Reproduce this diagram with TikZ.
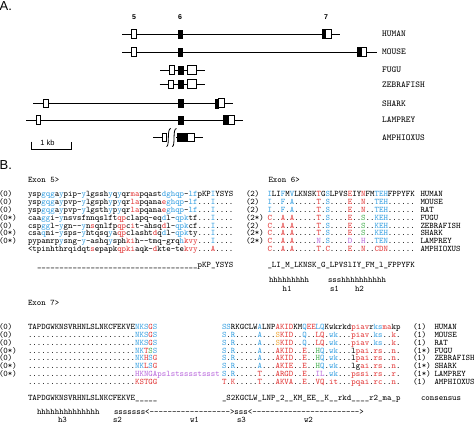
\documentclass[tikz,border=0pt]{standalone}
\usepackage{fontspec}
\newfontfamily\hv{Liberation Sans}
\definecolor{cb}{RGB}{55,160,225}
\definecolor{cr}{RGB}{225,55,55}
\definecolor{cg}{RGB}{70,175,80}
\definecolor{cp}{RGB}{185,105,220}
\definecolor{co}{RGB}{240,165,50}
\newcommand\xB[1]{\textcolor{cb}{#1}}
\newcommand\xR[1]{\textcolor{cr}{#1}}
\newcommand\xG[1]{\textcolor{cg}{#1}}
\newcommand\xP[1]{\textcolor{cp}{#1}}
\newcommand\xO[1]{\textcolor{co}{#1}}
\newcommand\usix{\_\_\_\_\_\_}
\newcommand\dtf{........................}
\newcommand\dten{-{}-{}-{}-{}-{}-{}-{}-{}-{}-{}}
\begin{document}
\begin{tikzpicture}[x=1pt,y=-1pt,
  seq/.style={anchor=base west, inner sep=0pt, outer sep=0pt, font=\ttfamily\fontsize{8.5}{9}\selectfont},
  spec/.style={anchor=west, inner sep=0pt, font=\ttfamily\fontsize{9}{10}\selectfont},
  panel/.style={anchor=west, inner sep=0pt, font=\hv\fontsize{13}{14}\selectfont},
  exlab/.style={inner sep=0pt, font=\hv\bfseries\fontsize{7}{8}\selectfont},
  gline/.style={line width=0.9pt},
  openex/.style={draw, fill=white, line width=0.8pt},
  fillex/.style={fill=black, draw=black, line width=0.4pt},
  brk/.style={line width=0.8pt}]
\useasboundingbox (0,0) rectangle (474,424);
% ---------------- Panel A ----------------
\node[panel] (lA) at (-0.5,6) {A.};
\node[exlab] (n5) at (134,17) {5};
\node[exlab] (n6) at (180,17) {6};
\node[exlab] (n7) at (326,17) {7};
% HUMAN
\draw[gline] (122,34) -- (340,34);
\draw[openex] (131.8,29.8) rectangle (136.3,38.2);
\draw[fillex] (178,29.8) rectangle (182.5,38.2);
\draw[fillex] (322,29.5) rectangle (325.5,38.5);
\draw[openex] (325.5,29.5) rectangle (331,38.5);
% MOUSE
\draw[gline] (122,52) -- (377,52);
\draw[openex] (131.8,47.8) rectangle (136.3,56.2);
\draw[fillex] (178,47.8) rectangle (182.5,56.2);
\draw[fillex] (357,47.5) rectangle (361,56.5);
\draw[openex] (361,47.5) rectangle (366,56.5);
% FUGU
\draw[gline] (160,70) -- (205,70);
\draw[openex] (169.5,65.8) rectangle (174,74.2);
\draw[fillex] (178.5,65.8) rectangle (183,74.2);
\draw[openex] (187,65.5) rectangle (196,74.5);
% ZEBRAFISH
\draw[gline] (159.5,84.3) -- (205,84.3);
\draw[openex] (168.5,80.1) rectangle (173,88.5);
\draw[fillex] (178.5,80.1) rectangle (183,88.5);
\draw[openex] (187.5,79.8) rectangle (196,88.8);
% SHARK
\draw[gline] (33,103.3) -- (233,103.3);
\draw[openex] (43.5,99.1) rectangle (48,107.5);
\draw[fillex] (178.5,99.1) rectangle (183,107.5);
\draw[fillex] (215,98.8) rectangle (218.5,107.8);
\draw[openex] (218.5,98.8) rectangle (224,107.8);
% LAMPREY
\draw[gline] (26,120) -- (243,120);
\draw[openex] (36,115.8) rectangle (40.5,124.2);
\draw[fillex] (178.5,115.8) rectangle (183,124.2);
\draw[fillex] (223,115.5) rectangle (228.5,124.5);
\draw[openex] (228.5,115.5) rectangle (234,124.5);
% AMPHIOXUS
\draw[gline] (153,137.3) -- (166.5,137.3);
\draw[gline] (176,137.3) -- (203,137.3);
\draw[openex] (162.5,133.6) rectangle (166.5,141.4);
\draw[brk] (166.5,146.5) .. controls (170,146.5) and (166.5,128.5) .. (170.8,128.5);
\draw[brk] (172.2,146.5) .. controls (175.7,146.5) and (172.2,128.5) .. (176.5,128.5);
\draw[fillex] (177,133.1) rectangle (187,141.5);
\draw[openex] (187,133.1) rectangle (194,141.5);
% scale bar
\draw[line width=0.8pt] (31.7,141.5) -- (31.7,149.3) -- (71,149.3) -- (71,141.5);
\node[inner sep=0pt, font=\hv\fontsize{7.5}{8}\selectfont] (kb) at (47.5,143) {1 kb};
% species A
\foreach \s/\yy [count=\i] in {HUMAN/34,MOUSE/52,FUGU/70,ZEBRAFISH/84.3,SHARK/103.3,LAMPREY/120,AMPHIOXUS/137.3}
  \node[spec] (sa\i) at (382,\yy) {\s};
% ---------------- Panel B ----------------
\node[panel] (lB) at (-0.5,165.5) {B.};
\node[seq] (x5) at (28,182.5) {Exon 5>};
\node[seq] (x6) at (268.5,182.5) {Exon 6>};
% left numbers exon 5
\foreach \t [count=\i] in {{(0)},{(0)},{(0)},{(0*)},{(0)},{(0*)},{(0*)}}
  \node[seq] (na\i) at (-1,{196.6+7.86*(\i-1)}) {\t};
\foreach \t [count=\i] in {{(2)},{(2)},{(2)},{(2*)},{(2)},{(2*)},{(2*)}}
  \node[seq] (nb\i) at (246,{196.6+7.86*(\i-1)}) {\t};
\foreach \s [count=\i] in {HUMAN,MOUSE,RAT,FUGU,ZEBRAFISH,SHARK,LAMPREY,AMPHIOXUS}
  \node[seq] (sb\i) at (420.5,{196.6+7.86*(\i-1)}) {\s};
% exon 5 sequences
\node[seq] (e5a) at (28,196.6) {ysp\xB{gqg}a\xB{y}pip-\xB{y}lgssh\xB{y}q\xB{y}qr\xR{ma}pqast\xB{dghqp}-\xB{lf}pKP\xB{I}YSYS};
\node[seq] (e5b) at (28,204.5) {ysp\xB{gqg}a\xB{y}pvp-\xB{y}lgsph\xB{y}p\xB{y}qr\xR{la}pqana\xR{e}\xB{ghqp}-\xB{lf}...\xB{I}....};
\node[seq] (e5c) at (28,212.3) {ysp\xB{gqg}a\xB{y}pvp-\xB{y}lgsth\xB{y}p\xB{y}qr\xR{la}pqana\xR{e}\xB{ghqp}-\xB{lf}...\xB{I}....};
\node[seq] (e5d) at (28,220.2) {caa\xB{gg}i-\xB{y}nsvsfnnqslft\xR{qp}clapq-eq\xB{d}l-\xB{qpk}tf...\xB{I}....};
\node[seq] (e5e) at (28,228.0) {csp\xB{gg}l-\xB{y}gn-{}-\xB{y}n\xR{s}qnlfp\xR{qp}c\xR{i}t-ahsq\xR{d}l-\xB{qpk}cf...\xB{I}....};
\node[seq] (e5f) at (28,235.9) {csa\xB{q}ni-\xB{y}sps-\xB{y}htqsq\xB{y}a\xR{qp}clasht\xR{d}q\xB{d}l-\xB{qpk}ty...\xB{I}....};
\node[seq] (e5g) at (28,243.8) {pypamrp\xB{y}sng-\xB{y}-ashq\xB{y}sph\xR{ki}h-{}-tmq-grq\xB{h}\xR{kvy}...\xB{I}....};
\node[seq] (e5h) at (28,251.6) {<tpinhthrqidqt\xR{s}epapk\xR{qpki}aqk-\xR{d}kte-te\xR{kvy}...\xR{A}....};
% exon 6 sequences
\node[seq] (e6a) at (267.5,196.6) {\xB{I}LI\xB{F}M\xB{V}LKNSK\xR{T}G\xB{S}LPVS\xR{E}IY\xR{N}FM\xB{TEH}FPPYFK};
\node[seq] (e6b) at (267.5,204.5) {\xB{I}..\xB{F}.\xB{A}.....\xR{T}.\xB{S}....\xR{E}..\xR{N}..\xB{TEH}......};
\node[seq] (e6c) at (267.5,212.3) {\xB{I}..\xB{F}.\xB{A}.....\xR{T}.\xB{S}....\xR{E}..\xR{N}..\xB{TEH}......};
\node[seq] (e6d) at (267.5,220.2) {\xR{C}..\xR{A}.\xR{A}.....\xR{T}.\xB{S}....\xR{E}..\xG{S}..\xB{KEH}......};
\node[seq] (e6e) at (267.5,228.0) {\xR{C}..\xR{A}.\xR{A}.....\xR{T}.\xB{S}....\xR{E}..\xG{S}..\xB{KEH}......};
\node[seq] (e6f) at (267.5,235.9) {\xR{C}..\xR{A}.\xR{A}.....\xR{T}.\xB{S}....\xR{E}..\xG{S}..\xB{KEH}......};
\node[seq] (e6g) at (267.5,243.8) {\xR{C}..\xR{A}.\xR{A}.....\xP{N}.\xB{S}....\xP{D}..\xP{H}..\xB{TEN}......};
\node[seq] (e6h) at (267.5,251.6) {\xR{C}..\xR{A}.\xR{A}.....\xR{T}.\xR{C}....\xR{E}..\xR{N}..\xR{CDN}......};
% consensus exon 5/6
\node[seq] (c5) at (37,267.3) {\usix\usix\usix\usix\usix\usix pKP\_YSYS};
\node[seq] (c6) at (267.5,267.3) {\_LI\_M\_LKNSK\_G\_LPVSlIY\_FM\_l\_FPPYFK};
\node[seq] (ss6a) at (269,282.3) {hhhhhhhhh};
\node[seq] (ss6b) at (328,282.3) {ssshhhhhhhhhh};
\node[seq] (h1) at (282.7,291.5) {h1};
\node[seq] (s1) at (330,291.5) {s1};
\node[seq] (h2) at (355,291.5) {h2};
% ---------------- Exon 7 ----------------
\node[seq] (x7) at (28,305.5) {Exon 7>};
\foreach \t [count=\i] in {{(0)},{(0)},{(0)},{(0*)},{(0)},{(0*)},{(0*)}}
  \node[seq] (nc\i) at (-1,{329.6+7.81*(\i-1)}) {\t};
\foreach \t [count=\i] in {{(1)},{(1)},{(1)},{(1*)},{(1)},{(1*)},{(1*)},{(1)}}
  \node[seq] (nd\i) at (413,{329.6+7.81*(\i-1)}) {\t};
\foreach \s [count=\i] in {HUMAN,MOUSE,RAT,FUGU,ZEBRAFISH,SHARK,LAMPREY,AMPHIOXUS}
  \node[seq] (sc\i) at (434.5,{329.6+7.81*(\i-1)}) {\s};
% exon 7 left
\node[seq] (e7a) at (28,329.6) {TAPDGWKNSVRHNLSLNKCFEKVE\xB{NKS}\xR{G}\xB{S}};
\node[seq] (e7b) at (28,337.4) {\dtf\xB{NKS}\xR{G}\xB{S}};
\node[seq] (e7c) at (28,345.2) {\dtf\xB{NKS}\xR{G}\xB{S}};
\node[seq] (e7d) at (28,353.0) {\dtf\xB{NK}\xR{T}\xG{S}\xB{S}};
\node[seq] (e7e) at (28,360.8) {\dtf\xB{NK}\xR{H}\xB{S}\xR{G}};
\node[seq] (e7f) at (28,368.7) {\dtf\xB{NK}\xR{L}\xB{S}\xR{G}};
\node[seq] (e7g) at (28,376.5) {\dtf\xP{HKNGApslstsssstssst}};
\node[seq] (e7h) at (28,384.3) {\dtf\xR{KSTGG}};
% exon 7 right
\node[seq] (f7a) at (222,329.6) {\xB{SS}RKGCLW\xB{A}LNP\xR{AKID}KM\xB{Q}\xR{EE}\xB{LQ}Kwkrkd\xR{piav}r\xB{ks}\xR{ma}kp};
\node[seq] (f7b) at (222,337.4) {\xB{S}.\xB{R}.....\xB{A}...\xO{S}\xR{KID}..\xB{Q}..\xR{LQ}.\xB{wk}...\xR{piav}.\xB{ks}..\xR{k}.};
\node[seq] (f7c) at (222,345.2) {\xB{S}.\xB{R}.....\xB{A}...\xO{S}\xR{KID}..\xB{Q}..\xR{LQ}.\xB{wk}...\xR{piav}.\xB{ks}..\xR{k}.};
\node[seq] (f7d) at (222,353.0) {\xB{S}.\xB{R}.....\xB{A}...\xR{AKID}..\xR{E}..\xG{H}\xB{Q}.\xB{wk}...l\xR{pai}.\xR{rs}..\xR{n}.};
\node[seq] (f7e) at (222,360.8) {\xB{S}.\xB{R}.....\xB{A}...\xR{AKID}..\xR{E}..\xG{H}\xB{Q}.\xB{wk}...l\xR{pai}.\xR{rs}..\xR{n}.};
\node[seq] (f7f) at (222,368.7) {\xB{S}.\xB{R}.....\xB{A}...\xR{AKIE}..\xR{E}..\xG{H}\xB{Q}.\xB{wk}...lg\xR{ai}.\xR{rs}..\xR{n}.};
\node[seq] (f7g) at (222,376.5) {\xB{S}.\xB{R}.....\xR{T}...\xR{ARGD}..\xR{E}..\xP{IL}.\xB{wk}...\xR{pssi}.\xR{rs}..\xR{r}.};
\node[seq] (f7h) at (222,384.3) {\xR{T}.\xR{K}.....\xR{T}...\xR{AKVA}..\xR{E}..\xR{VQ}.\xR{it}...\xR{pqai}.\xR{rc}..\xR{n}.};
% consensus exon 7
\node[seq] (c7a) at (28,400.6) {TAPDGWKNSVRHNLSLNKCFEKVE\_\_\_\_\_};
\node[seq] (c7b) at (222,400.6) {\_S2KGCLW\_LNP\_2\_\_KM\_EE\_\_K\_\_rkd\_\_\_\_r2\_ma\_p};
\node[seq] (c7c) at (421,400.6) {consensus};
\node[seq] (ss7a) at (37,414.5) {hhhhhhhhhhhhhh};
\node[seq] (ss7b) at (114,414.5) {sssssss<\dten-{}-{}-{}-{}-{}-{}-{}->sss<\dten\dten-{}-{}-{}->};
\node[seq] (h3) at (58,422.6) {h3};
\node[seq] (s2) at (113,422.6) {s2};
\node[seq] (w1) at (190,422.6) {w1};
\node[seq] (s3) at (237,422.6) {s3};
\node[seq] (w2) at (304,422.6) {w2};
\end{tikzpicture}
\end{document}
